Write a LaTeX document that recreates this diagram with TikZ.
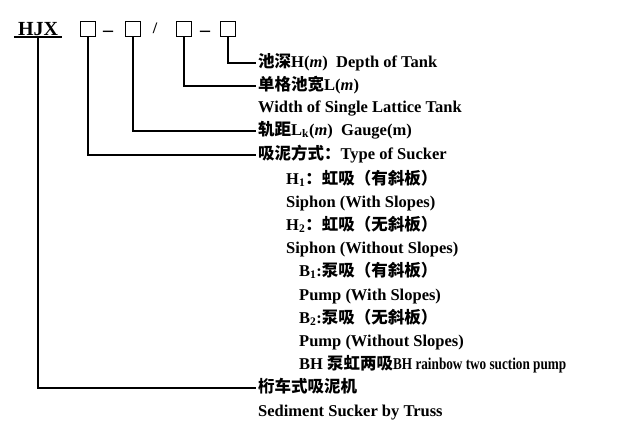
\documentclass[tikz,border=0pt]{standalone}
\usepackage{fontspec}
\setmainfont{Liberation Serif}
\newfontfamily\cjk{Noto Sans CJK SC}
\usetikzlibrary{positioning}
\newcommand{\zh}[1]{{\cjk #1}}

\begin{document}
\begin{tikzpicture}[x=1pt, y=-1pt,
        % Styles
        cell/.style={rectangle, draw, line width=1.5pt, minimum size=15pt, inner sep=0pt},
        sep/.style={inner sep=0pt, font=\fontsize{20}{22}\selectfont\bfseries},
        lbl/.style={anchor=west, inner sep=2pt, font=\fontsize{16.5}{18}\selectfont\bfseries,
                    text height=11.5pt, text depth=3.5pt},
        lead/.style={line width=1.4pt},
    ]
    \useasboundingbox (0,0) rectangle (628,428);

    % Code head
    \node[sep, inner sep=1pt] (hjx) at (38,29) {HJX};
    \node[cell] (b1) at (88,29) {};
    \node[sep] (d1) at (108,34) {--};
    \node[cell] (b2) at (133,29) {};
    \node[sep, font=\fontsize{16}{18}\selectfont\bfseries] (sl) at (155,28) {/};
    \node[cell] (b3) at (184,29) {};
    \node[sep] (d2) at (205,34) {--};
    \node[cell] (b4) at (228,29) {};
    \draw[lead] ([xshift=-3pt]hjx.south west) -- ([xshift=3pt]hjx.south east);

    % Labels
    \node[lbl] (depth) at (256,63) {\zh{池深}H(\textit{m})\ \ Depth of Tank};
    \node[lbl] (width) at (256,86) {\zh{单格池宽}L(\textit{m})};
    \node[lbl] (widthen) at (256,108) {Width of Single Lattice Tank};
    \node[lbl] (gauge) at (256,131) {\zh{轨距}L\textsubscript{k}(\textit{m})\ \ Gauge(m)};
    \node[lbl] (type) at (256,155) {\zh{吸泥方式：}Type of Sucker};
    \node[lbl] (h1) at (284,180) {H\textsubscript{1}\zh{：虹吸（有斜板）}};
    \node[lbl] (h1en) at (284,203) {Siphon (With Slopes)};
    \node[lbl] (h2) at (284,226) {H\textsubscript{2}\zh{：虹吸（无斜板）}};
    \node[lbl] (h2en) at (284,249) {Siphon (Without Slopes)};
    \node[lbl] (b1zh) at (297,272) {B\textsubscript{1}:\zh{泵吸（有斜板）}};
    \node[lbl] (b1en) at (297,296) {Pump (With Slopes)};
    \node[lbl] (b2zh) at (297,319) {B\textsubscript{2}:\zh{泵吸（无斜板）}};
    \node[lbl] (b2en) at (297,342) {Pump (Without Slopes)};
    \node[lbl] (bh) at (297,365) {BH \zh{泵虹两吸}\scalebox{0.8}[1]{BH rainbow two suction pump}};
    \node[lbl] (truss) at (256,388) {\zh{桁车式吸泥机}};
    \node[lbl] (trussen) at (256,412) {Sediment Sucker by Truss};

    % Leaders
    \draw[lead] (b4.south) |- (depth.west);
    \draw[lead] (b3.south) |- (width.west);
    \draw[lead] (b2.south) |- (gauge.west);
    \draw[lead] (b1.south) |- (type.west);
    \draw[lead] (hjx.south) |- (truss.west);

\end{tikzpicture}
\end{document}
